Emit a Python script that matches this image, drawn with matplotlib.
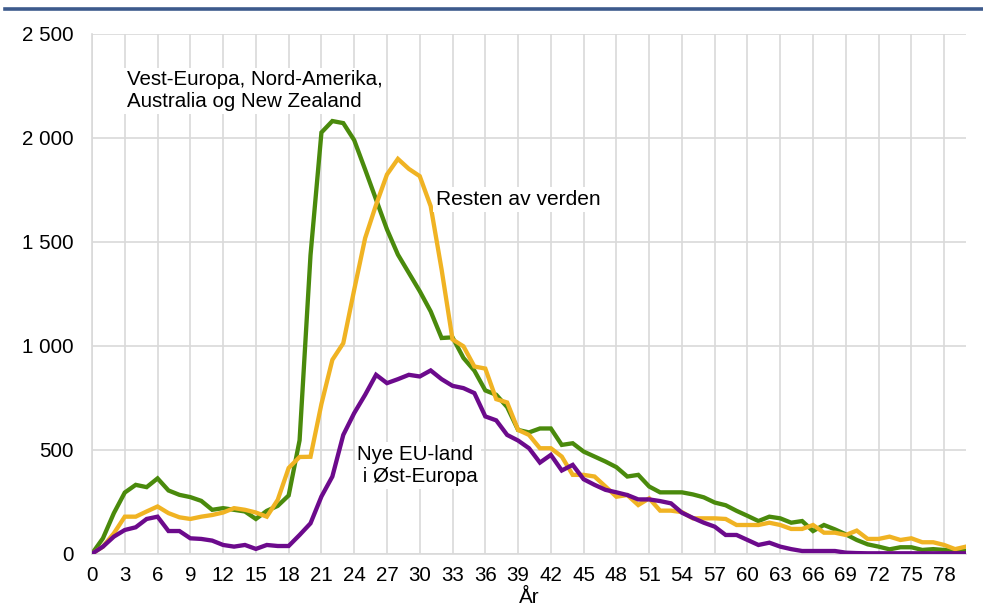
import matplotlib.pyplot as plt
from matplotlib.lines import Line2D
from matplotlib.ticker import FuncFormatter

plt.rcParams['font.family'] = ['Liberation Sans', 'DejaVu Sans']

alder = list(range(0, 81))

# Vest-Europa, Nord-Amerika, Australia og New Zealand
vest = [0, 74, 195, 294, 331, 320, 362, 304, 283, 272,
        254, 211, 219, 211, 203, 167, 206, 230, 280, 545,
        1435, 2025, 2080, 2070, 1988, 1847, 1703, 1559, 1438, 1350,
        1262, 1165, 1037, 1040, 941, 880, 785, 764, 705, 595,
        583, 602, 602, 523, 531, 491, 467, 443, 416, 371,
        379, 323, 295, 295, 295, 285, 271, 246, 233, 206,
        182, 157, 178, 170, 149, 157, 109, 138, 117, 93,
        66, 45, 34, 21, 31, 31, 18, 22, 18, 13,
        13]

# Resten av verden
resten = [0, 34, 98, 178, 178, 203, 227, 195, 175, 167,
          178, 186, 198, 219, 211, 198, 178, 259, 412, 465,
          466, 720, 932, 1012, 1269, 1517, 1677, 1823, 1898, 1850,
          1815, 1671, 1366, 1030, 997, 900, 890, 743, 727, 595,
          571, 507, 507, 467, 379, 379, 371, 323, 274, 282,
          234, 266, 207, 207, 200, 170, 170, 170, 167, 138,
          138, 138, 149, 138, 119, 119, 138, 101, 101, 90,
          111, 71, 71, 82, 66, 74, 55, 55, 42, 22,
          34]

# Nye EU-land i Øst-Europa
oest = [0, 34, 82, 114, 127, 167, 178, 109, 109, 74,
        71, 63, 42, 34, 42, 23, 42, 37, 37, 90,
        146, 275, 371, 571, 676, 764, 860, 820, 839, 860,
        852, 881, 839, 807, 796, 772, 660, 641, 571, 544,
        507, 438, 475, 400, 427, 358, 331, 307, 295, 282,
        261, 261, 253, 242, 197, 172, 149, 130, 90, 90,
        66, 42, 53, 34, 22, 13, 13, 13, 13, 5,
        3, 2, 2, 2, 2, 2, 2, 2, 2, 2,
        2]

x_ticks = list(range(0, 79, 3))
y_ticks = [0, 500, 1000, 1500, 2000, 2500]

fs = 14.8

fig = plt.figure(figsize=(9.83, 6.09), dpi=100)
ax = fig.add_axes([0.0936, 0.0908, 0.8891, 0.8539])

grid = '#D9D9D9'
ax.plot(alder, vest, color='#4A8A0C', lw=3.1, solid_joinstyle='miter', zorder=3)
ax.plot(alder, resten, color='#F0B323', lw=3.1, solid_joinstyle='miter', zorder=3)
ax.plot(alder, oest, color='#6C0A8C', lw=3.1, solid_joinstyle='miter', zorder=3)

ax.set_xlim(0, 80)
ax.set_ylim(0, 2500)
ax.set_xticks(x_ticks)
ax.set_yticks(y_ticks)
ax.yaxis.set_major_formatter(FuncFormatter(lambda v, p: f'{int(v):,}'.replace(',', ' ')))
ax.grid(True, color=grid, lw=1.2)
ax.set_axisbelow(True)
for s in ['top', 'right']:
    ax.spines[s].set_visible(False)
for s in ['left', 'bottom']:
    ax.spines[s].set_color(grid)
    ax.spines[s].set_linewidth(1.2)
ax.tick_params(axis='both', length=0, labelsize=fs, colors='black')
ax.tick_params(axis='y', pad=13)
ax.tick_params(axis='x', pad=9)
ax.set_xlabel('År', fontsize=fs, labelpad=2)

box = dict(facecolor='white', edgecolor='none', pad=2)
ax.text(3.2, 2225, 'Vest-Europa, Nord-Amerika,\nAustralia og New Zealand',
        fontsize=fs, va='center', ha='left', linespacing=1.2, bbox=box, zorder=4)
ax.text(31.5, 1703, 'Resten av verden', fontsize=fs + 0.3, va='center', ha='left',
        bbox=box, zorder=4)
ax.text(24.3, 425, 'Nye EU-land\n i Øst-Europa', fontsize=fs, va='center', ha='left',
        linespacing=1.2, bbox=box, zorder=4)

fig.add_artist(Line2D([0.005, 1.0], [0.9860, 0.9860], color='#3D5A8C', lw=2.6,
                      transform=fig.transFigure))

fig.savefig('out.png', dpi=100)
